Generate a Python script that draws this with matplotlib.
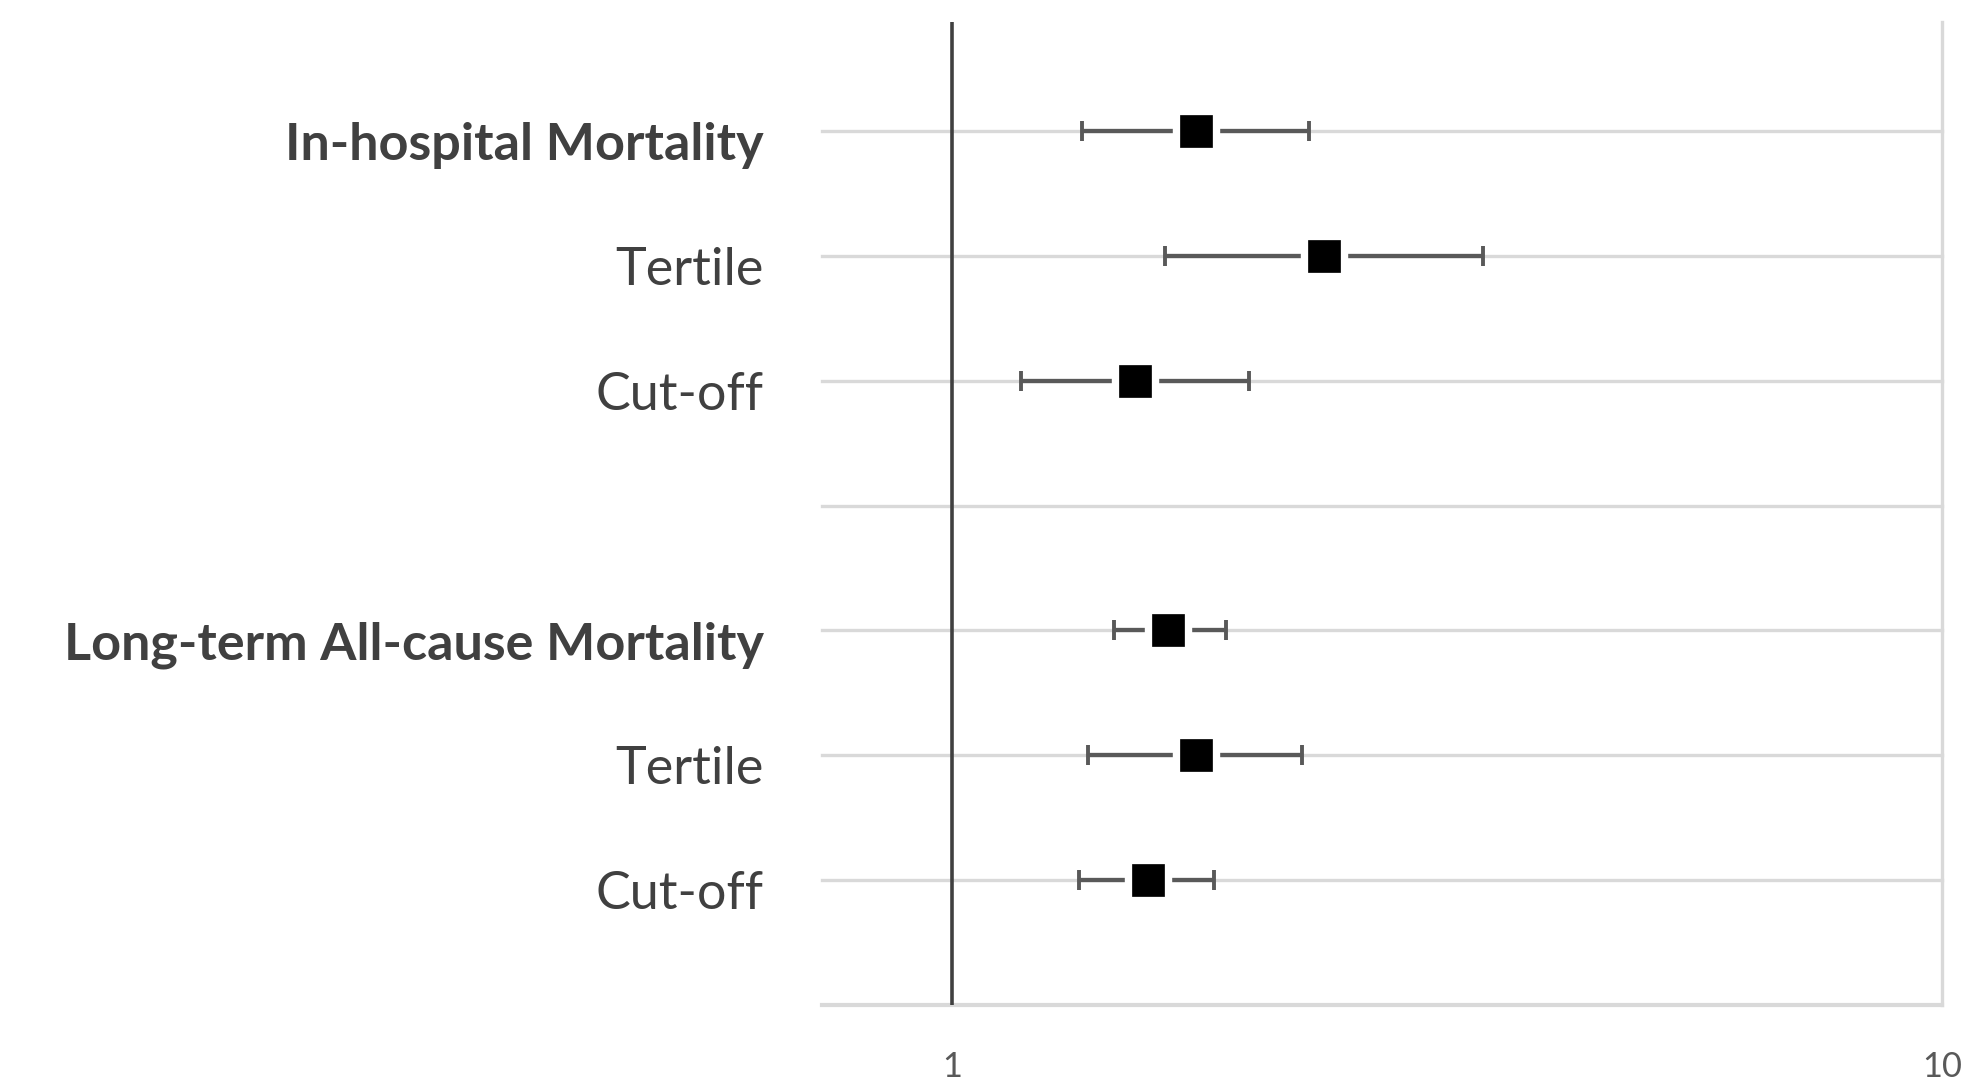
import matplotlib
matplotlib.use("Agg")
import matplotlib.pyplot as plt
import matplotlib.transforms as mtrans
from matplotlib import font_manager as fm

labels = ["In-hospital Mortality", "Tertile", "Cut-off", "",
          "Long-term All-cause Mortality", "Tertile", "Cut-off"]
bold = [True, False, False, False, True, False, False]
y_pos = [7, 6, 5, 4, 3, 2, 1]
hr = [1.764, 2.375, 1.530, None, 1.653, 1.764, 1.578]
lo = [1.353, 1.641, 1.174, None, 1.457, 1.372, 1.344]
hi = [2.293, 3.440, 1.995, None, 1.891, 2.257, 1.840]
xticks = [1, 10]
xticklabels = ["1", "10"]

avail = {f.name for f in fm.fontManager.ttflist}
fam = [f for f in ["Lato", "Open Sans", "DejaVu Sans"] if f in avail]

W, H, DPI = 1973, 1083, 100
fig = plt.figure(figsize=(W / DPI, H / DPI), dpi=DPI)
L, R, B, T = 822, 1942, 1005, 22
ax = fig.add_axes([L / W, 1 - B / H, (R - L) / W, (B - T) / H])
ax.set_xscale("log")
ax.set_xlim(10 ** (-(952 - 822) / 990), 10)
ax.set_ylim(0, 7.872)

for s in ax.spines.values():
    s.set_visible(False)

# fit label font size to the reference's label width
renderer = fig.canvas.get_renderer()
probe = fig.text(0, 0, "Long-term All-cause Mortality", fontfamily=fam, fontsize=40,
                 fontweight="bold")
wpx = probe.get_window_extent(renderer).width
probe.remove()
lab_fs = 40 * 700 / wpx
probe = fig.text(0, 0, "10", fontfamily=fam, fontsize=30)
wpx = probe.get_window_extent(renderer).width
probe.remove()
tick_fs = 30 * 40 / wpx

grid_c = "#d9d9d9"
for y in range(0, 8):
    ax.axhline(y, color=grid_c, lw=2.4 if y else 3.0, zorder=1, clip_on=False)
ax.axvline(10, color=grid_c, lw=2.4, zorder=1, clip_on=False)
ax.axvline(1, color="#404040", lw=2.6, zorder=2)

for y, m, l, h in zip(y_pos, hr, lo, hi):
    if m is None:
        continue
    ax.errorbar([m], [y], xerr=[[m - l], [h - m]], fmt="none", ecolor="#595959",
                elinewidth=3.1, capsize=7.5, capthick=2.8, zorder=3)
    ax.plot([m], [y], marker="s", ms=33, color="white", mec="white", ls="none", zorder=4)
    ax.plot([m], [y], marker="s", ms=22.5, color="black", mec="black", mew=0.5,
            ls="none", zorder=5)

ax.set_xticks(xticks)
ax.set_xticklabels(xticklabels, fontfamily=fam, fontsize=tick_fs, color="#595959")
ax.tick_params(axis="x", length=0, pad=33)
ax.xaxis.set_minor_locator(matplotlib.ticker.NullLocator())
ax.set_yticks([])

blend = mtrans.blended_transform_factory(ax.transAxes, ax.transData)
off = mtrans.ScaledTranslation(0, -29 / DPI, fig.dpi_scale_trans)
xlab = (764 - L) / (R - L)
for y, t, b in zip(y_pos, labels, bold):
    if not t:
        continue
    ax.text(xlab, y, t, transform=blend + off, ha="right", va="baseline",
            fontfamily=fam, fontsize=lab_fs, fontweight="bold" if b else "normal",
            color="#404040", clip_on=False)

fig.savefig("out.png", dpi=DPI, facecolor="white")
